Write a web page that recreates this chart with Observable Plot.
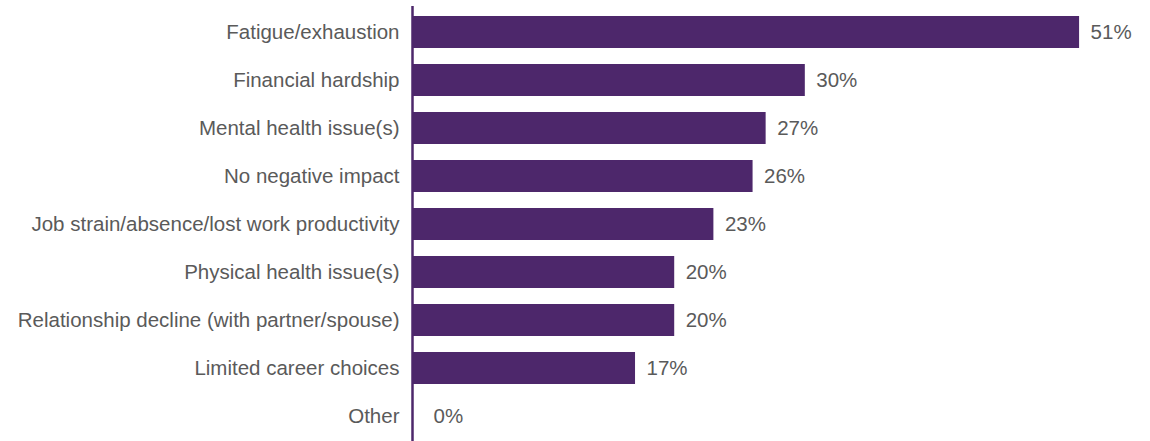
<!DOCTYPE html>
<html>
<head>
<meta charset="utf-8">
<script src="https://cdn.jsdelivr.net/npm/d3@7"></script>
<script src="https://cdn.jsdelivr.net/npm/@observablehq/plot@0.6"></script>
<style>
  body { margin: 0; background: #fff; }
  #chart svg { display: block; }
</style>
</head>
<body>
<div id="chart"></div>
<script>
const categories = [
  "Fatigue/exhaustion",
  "Financial hardship",
  "Mental health issue(s)",
  "No negative impact",
  "Job strain/absence/lost work productivity",
  "Physical health issue(s)",
  "Relationship decline (with partner/spouse)",
  "Limited career choices",
  "Other"
];
const values = [51, 30, 27, 26, 23, 20, 20, 17, 0];

const data = categories.map((c, i) => ({category: c, value: values[i]}));
const purple = "#4d276b";
const textColor = "#5a5a5a";

const chart = Plot.plot({
  width: 1150,
  height: 441,
  marginLeft: 413,
  marginRight: 0,
  marginTop: 6,
  marginBottom: 0,
  style: {fontFamily: "'Liberation Sans', Arial, sans-serif", fontSize: "20.5px", color: textColor, background: "#fff"},
  x: {domain: [0, 56.43], axis: null},
  y: {domain: categories, paddingInner: 0.34, paddingOuter: 0.17, label: null},
  marks: [
    Plot.barX(data, {x: "value", y: "category", fill: purple}),
    Plot.ruleX([0], {stroke: purple, strokeWidth: 2.5, dx: -1}),
    Plot.axisY({tickSize: 0, tickPadding: 14, fontSize: 20.5, fill: textColor, label: null}),
    Plot.text(data.filter(d => d.value > 0), {x: "value", y: "category", text: d => d.value + "%", textAnchor: "start", dx: 11, fill: textColor, fontSize: 20.5}),
    Plot.text(data.filter(d => d.value === 0), {x: "value", y: "category", text: d => d.value + "%", textAnchor: "start", dx: 20, fill: textColor, fontSize: 20.5})
  ]
});
document.getElementById("chart").appendChild(chart);
</script>
</body>
</html>
